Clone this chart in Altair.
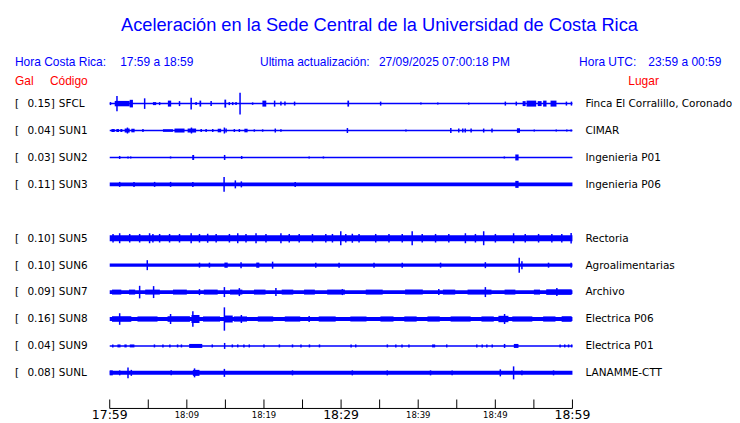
import altair as alt
import pandas as pd

# ---------------- data ----------------
TITLE = "Aceleración en la Sede Central de la Universidad de Costa Rica"
STATIONS = ["SFCL", "SUN1", "SUN2", "SUN3", "SUN5", "SUN6", "SUN7", "SUN8", "SUN9", "SUNL"]
ROWS = [0, 1, 2, 3, 5, 6, 7, 8, 9, 10]
GAL = ["0.15", "0.04", "0.03", "0.11", "0.10", "0.10", "0.09", "0.16", "0.04", "0.08"]
PLACES = ["Finca El Corralillo, Coronado", "CIMAR", "Ingenieria P01", "Ingenieria P06",
          "Rectoria", "Agroalimentarias", "Archivo", "Electrica P06", "Electrica P01",
          "LANAMME-CTT"]
# half-thickness of the background noise of each trace (in pixel-like amplitude units)
BASE_HALF = [0.75, 0.75, 0.75, 1.8, 3.1, 1.6, 1.9, 2.0, 0.75, 2.0]

# events: (start minute, end minute, half amplitude)
SFCL_EV = [(0.1, 0.1, 1.5), (0.65, 2.59, 2.7), (0.94, 0.94, 7.7), (2.59, 3.01, 3.8), (4.53, 4.53, 5.3),
           (5.6, 6.03, 1.5), (6.47, 6.47, 1.5), (7.54, 7.97, 3.0), (9.05, 9.05, 2.5), (10.56, 10.56, 5.8),
           (11.2, 11.2, 1.5), (11.64, 11.86, 3.0), (13.15, 13.15, 2.5), (14.87, 15.1, 4.0), (15.5, 15.5, 1.5),
           (15.95, 15.95, 1.5), (16.38, 16.38, 1.5), (16.9, 16.9, 11.0), (18.53, 18.53, 1.2), (19.8, 20.3, 3.0),
           (21.38, 21.38, 3.0), (22.2, 22.2, 2.0), (22.72, 22.72, 2.0), (23.97, 23.97, 2.0), (30.82, 31.04, 3.0),
           (35.13, 35.13, 2.0), (40.35, 40.35, 1.0), (42.54, 42.54, 1.0), (46.55, 46.55, 1.0), (51.3, 51.3, 2.0),
           (52.72, 52.72, 2.0), (53.54, 53.93, 2.5), (54.05, 55.3, 3.0), (55.5, 56.0, 2.5), (56.2, 56.64, 3.0),
           (57.16, 57.93, 3.0), (59.22, 59.22, 2.0), (59.87, 59.87, 2.0)]
SUN1_EV = [(0.22, 0.65, 1.5), (0.86, 1.2, 1.5), (1.38, 1.64, 1.5), (1.94, 2.59, 2.0), (2.3, 2.3, 3.0),
           (2.8, 3.23, 1.8), (4.31, 4.31, 1.5), (6.9, 8.2, 1.3), (8.4, 9.7, 2.0), (10.1, 11.2, 2.0),
           (10.6, 10.6, 3.0), (11.86, 11.86, 1.5), (12.5, 12.5, 1.5), (13.36, 13.36, 1.5), (14.0, 14.45, 1.8),
           (14.87, 14.87, 3.0), (15.09, 15.09, 2.0), (16.16, 16.16, 1.5), (16.81, 16.81, 1.5), (17.46, 17.88, 1.8),
           (18.75, 18.75, 1.2), (19.83, 19.83, 1.2), (21.47, 21.47, 2.0), (22.2, 22.2, 1.2), (30.82, 30.82, 2.5),
           (38.41, 38.41, 1.0), (44.23, 44.23, 2.5), (45.26, 45.26, 2.0), (45.78, 45.78, 2.0), (46.1, 46.1, 2.0),
           (46.86, 46.86, 2.0), (48.49, 48.49, 2.0), (49.57, 49.57, 2.0), (52.8, 53.2, 2.3), (55.05, 55.05, 1.0),
           (57.9, 57.9, 1.0), (59.27, 59.27, 1.0), (59.83, 59.83, 1.0)]
SUN2_EV = [(1.29, 1.29, 1.5), (2.37, 2.37, 1.0), (2.72, 2.72, 1.0), (7.89, 7.89, 1.0), (10.7, 10.95, 2.5),
           (14.8, 15.0, 2.5), (17.11, 17.11, 1.5), (25.86, 25.86, 1.0), (27.71, 27.71, 1.0), (51.17, 51.17, 1.0),
           (52.59, 53.02, 3.0)]
SUN3_EV = [(1.29, 1.29, 2.5), (3.15, 3.15, 2.5), (5.82, 5.82, 2.5), (7.89, 7.89, 2.5), (10.78, 10.78, 2.5),
           (14.83, 14.83, 7.4), (16.29, 16.29, 4.0), (17.07, 17.07, 3.0), (24.05, 24.05, 2.5), (52.59, 53.02, 3.5)]
SUN5_EV = [(1.29, 1.29, 5.0), (5.17, 5.17, 5.0), (10.56, 10.56, 5.0), (12.7, 12.7, 4.5), (16.6, 16.6, 5.0),
           (18.97, 18.97, 5.0), (22.2, 22.2, 5.0), (29.96, 29.96, 7.0), (31.46, 31.46, 4.5), (39.22, 39.22, 7.0),
           (46.12, 46.12, 5.0), (48.49, 48.49, 7.0), (52.37, 52.37, 5.0), (59.83, 59.83, 5.3),
           (0.43, 0.43, 4.3), (2.59, 2.59, 4.3), (3.88, 3.88, 4.3), (5.6, 5.6, 4.3), (6.47, 6.47, 4.3),
           (7.76, 7.76, 4.3), (9.05, 9.05, 4.3), (11.64, 11.64, 4.3), (13.8, 13.8, 4.3), (15.52, 15.52, 4.3),
           (17.67, 17.67, 4.3), (20.26, 20.26, 4.3), (23.28, 23.28, 4.3), (24.57, 24.57, 4.3), (26.29, 26.29, 4.3),
           (28.02, 28.02, 4.3), (28.88, 28.88, 4.3), (30.61, 30.61, 4.3), (32.33, 32.33, 4.3), (34.49, 34.49, 4.3),
           (36.21, 36.21, 4.3), (37.93, 37.93, 4.3), (40.52, 40.52, 4.3), (42.25, 42.25, 4.3), (43.97, 43.97, 4.3),
           (47.42, 47.42, 4.3), (50.01, 50.01, 4.3), (53.88, 53.88, 4.3), (55.61, 55.61, 4.3), (57.33, 57.33, 4.3),
           (58.62, 58.62, 4.3)]
SUN6_EV = [(4.87, 4.87, 5.0), (11.64, 11.64, 2.5), (12.93, 12.93, 2.5), (14.87, 15.3, 2.6), (17.03, 17.03, 3.0),
           (19.0, 19.4, 2.6), (21.12, 21.12, 3.5), (26.72, 26.72, 2.5), (29.74, 29.74, 2.5), (34.27, 34.27, 2.5),
           (37.93, 37.93, 2.5), (42.9, 42.9, 2.5), (48.71, 48.71, 3.0), (53.1, 53.1, 7.5), (53.45, 53.45, 4.0),
           (56.9, 56.9, 2.5), (59.83, 59.83, 2.5)]
SUN7_EV = [(3.88, 3.88, 6.3), (5.69, 5.69, 6.0), (11.64, 11.64, 3.0), (14.87, 14.87, 5.0), (16.81, 16.81, 4.0),
           (21.55, 21.55, 4.0), (30.17, 30.17, 3.0), (42.67, 42.67, 3.0), (48.71, 48.71, 5.0), (57.98, 57.98, 4.0),
           (0.3, 1.5, 2.5), (2.5, 3.3, 2.5), (4.6, 6.5, 2.5), (8.2, 10.0, 2.5), (12.2, 14.0, 2.5), (15.6, 17.2, 2.5),
           (18.7, 20.2, 2.5), (22.3, 23.8, 2.5), (25.2, 26.6, 2.5), (28.2, 30.5, 2.5), (33.2, 35.4, 2.5),
           (38.3, 40.6, 2.5), (43.2, 44.8, 2.5), (46.4, 49.5, 2.5), (51.2, 52.6, 2.5), (55.0, 55.8, 2.5),
           (56.6, 59.9, 2.8)]
SUN8_EV = [(1.29, 1.29, 5.8), (7.89, 7.89, 5.0), (10.78, 10.78, 7.8), (10.6, 11.64, 4.0), (14.87, 14.87, 11.7),
           (14.87, 15.95, 3.5), (17.07, 17.07, 4.0), (25.86, 25.86, 3.0), (51.2, 51.2, 5.0), (50.4, 51.7, 3.2),
           (0.3, 2.8, 2.8), (3.6, 6.2, 2.6), (7.5, 10.4, 2.8), (12.1, 14.3, 2.6), (16.1, 17.8, 2.6),
           (19.2, 21.2, 2.6), (22.7, 24.7, 2.6), (27.1, 29.3, 2.6), (31.2, 33.3, 2.6), (35.1, 36.8, 2.6),
           (38.2, 39.8, 2.6), (41.2, 42.8, 2.6), (44.2, 46.8, 2.6), (48.2, 49.8, 2.6), (52.2, 54.8, 2.6),
           (56.2, 57.8, 2.6), (58.6, 59.9, 2.8)]
SUN9_EV = [(0.4, 0.4, 1.5), (1.0, 1.4, 1.5), (1.9, 2.2, 1.5), (2.6, 3.2, 1.5), (5.8, 5.8, 1.5), (6.9, 6.9, 1.5),
           (7.8, 7.8, 1.5), (8.8, 8.8, 1.5), (9.3, 9.3, 1.5), (10.3, 12.0, 2.0), (13.3, 13.3, 1.5),
           (14.9, 14.9, 3.0), (15.9, 15.9, 1.5), (16.6, 16.6, 1.5), (17.4, 17.4, 1.5), (18.1, 18.1, 1.5),
           (20.0, 20.0, 1.5), (22.0, 22.0, 1.5), (23.7, 23.7, 1.5), (24.8, 24.8, 1.5), (25.9, 25.9, 1.5),
           (27.2, 27.2, 1.5), (31.3, 31.3, 1.5), (31.9, 31.9, 1.5), (36.0, 36.0, 1.5), (37.1, 37.1, 1.5),
           (37.9, 37.9, 1.5), (38.8, 38.8, 1.5), (41.8, 42.2, 1.5), (43.7, 43.7, 1.5), (47.6, 47.6, 1.5),
           (48.3, 48.3, 1.5), (48.9, 48.9, 1.5), (49.6, 49.6, 1.5), (51.1, 51.3, 2.0), (52.4, 53.0, 2.0),
           (58.4, 58.4, 1.5), (59.0, 59.0, 1.5), (59.5, 59.5, 1.5), (59.9, 59.9, 1.5)]
SUNL_EV = [(0.0, 0.4, 2.5), (1.29, 1.29, 2.5), (2.37, 2.37, 5.5), (2.8, 2.8, 3.0), (7.97, 7.97, 2.5),
           (10.78, 11.64, 3.0), (11.0, 11.0, 4.5), (14.87, 14.87, 4.0), (23.7, 23.7, 2.5), (31.46, 31.46, 2.5),
           (35.99, 35.99, 2.5), (41.6, 41.6, 2.5), (44.4, 44.4, 2.3), (50.65, 50.65, 3.5), (52.37, 52.37, 6.5),
           (53.45, 53.45, 2.3), (57.55, 57.55, 2.5)]
EVENTS = [SFCL_EV, SUN1_EV, SUN2_EV, SUN3_EV, SUN5_EV, SUN6_EV, SUN7_EV, SUN8_EV, SUN9_EV, SUNL_EV]

T_START, T_END = 0, 60
TICK_MINUTES = list(range(0, 61, 5))
AXIS_LABEL_MIN = [0, 10, 20, 30, 40, 50, 60]
AXIS_LABELS = ["17:59", "18:09", "18:19", "18:29", "18:39", "18:49", "18:59"]
AXIS_BIG = [True, False, False, True, False, False, True]

HORA_CR = "17:59 a 18:59"
UPDATE = "27/09/2025 07:00:18 PM"
HORA_UTC = "23:59 a 00:59"

# ---------------- build tables ----------------
ROW_PX = 27.0
rows_df = pd.DataFrame({"station": STATIONS, "row": ROWS, "gal": [g + "]" for g in GAL],
                        "place": PLACES, "base": BASE_HALF})
rows_df["y0"] = rows_df["row"] - rows_df["base"] / ROW_PX
rows_df["y1"] = rows_df["row"] + rows_df["base"] / ROW_PX
rows_df["t0"] = T_START
rows_df["t1"] = T_END

recs = []
for st, r, evs in zip(STATIONS, ROWS, EVENTS):
    for (a, b, amp) in evs:
        recs.append({"station": st, "t0": a, "t1": b, "y0": r - amp / ROW_PX, "y1": r + amp / ROW_PX,
                     "spike": int(a == b)})
ev_df = pd.DataFrame(recs)
spikes = ev_df[ev_df.spike == 1].drop(columns="spike").reset_index(drop=True)
blocks = ev_df[ev_df.spike == 0].drop(columns="spike").reset_index(drop=True)

ticks_df = pd.DataFrame({"m": TICK_MINUTES})
lab_df = pd.DataFrame({"m": AXIS_LABEL_MIN, "label": AXIS_LABELS, "big": AXIS_BIG})
big_df = lab_df[lab_df.big].drop(columns="big").reset_index(drop=True)
small_df = lab_df[~lab_df.big].drop(columns="big").reset_index(drop=True)
span_df = pd.DataFrame({"t0": [T_START], "t1": [T_END]})

# ---------------- layout ----------------
W, H = 464, 414
PAD_L, PAD_R = 102, 160
ROW0_Y = 95.3  # plot-pixel of first trace centre
ydom = [(0 - ROW0_Y) / ROW_PX, (H - ROW0_Y) / ROW_PX]

BLUE = "#0000ff"
RED = "#ff0000"
xsc = alt.Scale(domain=[T_START, T_END], nice=False, zero=False)
ysc = alt.Scale(domain=ydom, reverse=True, nice=False, zero=False)


def X(f):
    return alt.X(f, type="quantitative", scale=xsc, axis=None)


def Y(f):
    return alt.Y(f, type="quantitative", scale=ysc, axis=None)


base = alt.Chart(rows_df).mark_rect(color=BLUE).encode(
    x=X("t0"), x2="t1", y=Y("y0"), y2="y1")
blk = alt.Chart(blocks).mark_rect(color=BLUE).encode(
    x=X("t0"), x2="t1", y=Y("y0"), y2="y1")
spk = alt.Chart(spikes).mark_rule(color=BLUE, strokeWidth=1.5).encode(
    x=X("t0"), y=Y("y0"), y2="y1")

lbl_font = "DejaVu Sans"
lbl_size = 10.5
bracket = alt.Chart(rows_df).mark_text(align="left", baseline="alphabetic", dy=3.4, font=lbl_font,
                                       fontSize=lbl_size, color="black", text="[").encode(
    x=alt.value(-95), y=Y("row"))
galtxt = alt.Chart(rows_df).mark_text(align="right", baseline="alphabetic", dy=3.4, font=lbl_font,
                                      fontSize=lbl_size, color="black").encode(
    x=alt.value(-55), y=Y("row"), text="gal:N")
code = alt.Chart(rows_df).mark_text(align="left", baseline="alphabetic", dy=3.4, font=lbl_font,
                                    fontSize=lbl_size, color="black").encode(
    x=alt.value(-51), y=Y("row"), text="station:N")
place = alt.Chart(rows_df).mark_text(align="left", baseline="alphabetic", dy=3.4, font=lbl_font,
                                     fontSize=lbl_size, color="black").encode(
    x=alt.value(477), y=Y("row"), text="place:N")

one = pd.DataFrame({"k": [0]})


def txt(s, x, y, size, color, font="Liberation Sans", align="left"):
    return alt.Chart(one).mark_text(text=s, align=align, baseline="alphabetic", fontSize=size,
                                    color=color, font=font).encode(x=alt.value(x), y=alt.value(y))


texts = [
    txt(TITLE, 270.5, 22, 18.3, BLUE, align="center"),
    txt("Hora Costa Rica:", -95, 58, 12, BLUE),
    txt(HORA_CR, 10.5, 58, 12, BLUE),
    txt("Ultima actualización:", 150.7, 58, 12, BLUE),
    txt(UPDATE, 270, 58, 12, BLUE),
    txt("Hora UTC:", 470.7, 58, 12, BLUE),
    txt(HORA_UTC, 540, 58, 12, BLUE),
    txt("Gal", -95, 77, 12, RED),
    txt("Código", -60, 77, 12, RED),
    txt("Lugar", 520, 77, 12, RED),
]

axis_line = alt.Chart(span_df).mark_rule(color="black", strokeWidth=1).encode(
    x=X("t0"), x2="t1", y=alt.value(401))
ticks = alt.Chart(ticks_df).mark_rule(color="black", strokeWidth=1).encode(
    x=X("m"), y=alt.value(392), y2=alt.value(401))
big_lab = alt.Chart(big_df).mark_text(font="DejaVu Sans", fontSize=12.5, color="black",
                                      baseline="alphabetic", align="center").encode(
    x=X("m"), y=alt.value(412), text="label:N")
small_lab = alt.Chart(small_df).mark_text(font="DejaVu Sans", fontSize=8.5, color="black",
                                          baseline="alphabetic", align="center").encode(
    x=X("m"), y=alt.value(411), text="label:N")

chart = alt.layer(base, blk, spk, bracket, galtxt, code, place, axis_line, ticks, big_lab, small_lab,
                  *texts).properties(
    width=W, height=H,
    background="white",
    autosize=alt.AutoSizeParams(type="none"),
    padding={"left": PAD_L, "right": PAD_R, "top": 0, "bottom": 0},
).configure_view(stroke=None)

chart.save("out.html", embed_options={"renderer": "svg", "actions": False})
